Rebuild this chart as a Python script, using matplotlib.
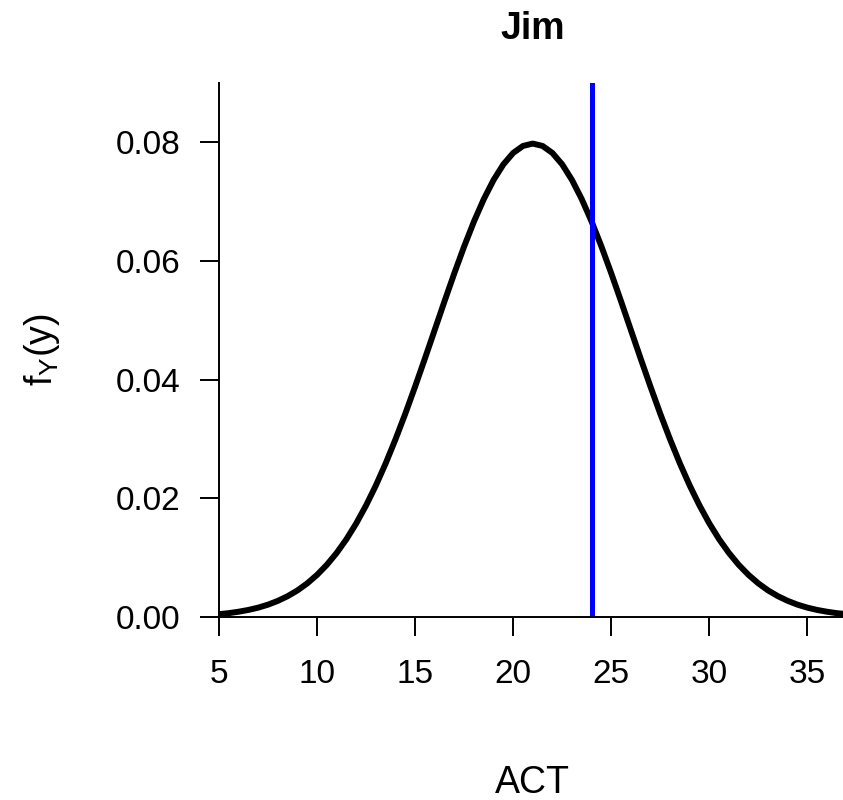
import matplotlib
matplotlib.use("Agg")
import matplotlib.pyplot as plt

plt.rcParams.update({
    "font.family": ["Liberation Sans", "DejaVu Sans"],
    "mathtext.default": "regular",
    "axes.linewidth": 1.4,
})

# density, ACT from 5 to 37 in steps of 0.5
act = [5 + 0.5 * i for i in range(65)]
half = [0.00048, 0.00065, 0.00089, 0.00119, 0.00158, 0.00208, 0.00272, 0.00351,
        0.00448, 0.00567, 0.00710, 0.00880, 0.01080, 0.01312, 0.01579, 0.01881,
        0.02218, 0.02590, 0.02995, 0.03427, 0.03884, 0.04357, 0.04839, 0.05322,
        0.05794, 0.06245, 0.06665, 0.07041, 0.07365, 0.07628, 0.07821, 0.07939]
dens = half + [0.07979] + half[::-1]
jim_score = 24
title = "Jim"
xticks = [5, 10, 15, 20, 25, 30, 35]
yticks = [0.00, 0.02, 0.04, 0.06, 0.08]

fig = plt.figure(figsize=(8.43, 8.0), dpi=100)
ax = fig.add_axes([0.2598, 0.22875, 0.7444, 0.6675])

ax.plot(act, dens, color="black", lw=4.3, solid_capstyle="butt")
ax.axvline(jim_score, color="#0000ff", lw=3.6)

ax.set_xlim(5, 37)
ax.set_ylim(0, 0.09)
ax.set_xticks(xticks)
ax.set_yticks(yticks)
ax.set_yticklabels([f"{v:.2f}" for v in yticks])
ax.tick_params(direction="out", length=13.5, width=1.4, labelsize=24, pad=14)
ax.tick_params(axis="x", pad=17)
for s in ("top", "right"):
    ax.spines[s].set_visible(False)

ax.set_xlabel("ACT", fontsize=27)
ax.xaxis.set_label_coords(0.5, -0.278)
ax.set_ylabel("$f_Y(y)$", fontsize=27)
ax.yaxis.set_label_coords(-0.25, 0.5)
ax.set_title(title, fontsize=27, fontweight="bold", pad=32)

fig.savefig("out.png", dpi=100)
